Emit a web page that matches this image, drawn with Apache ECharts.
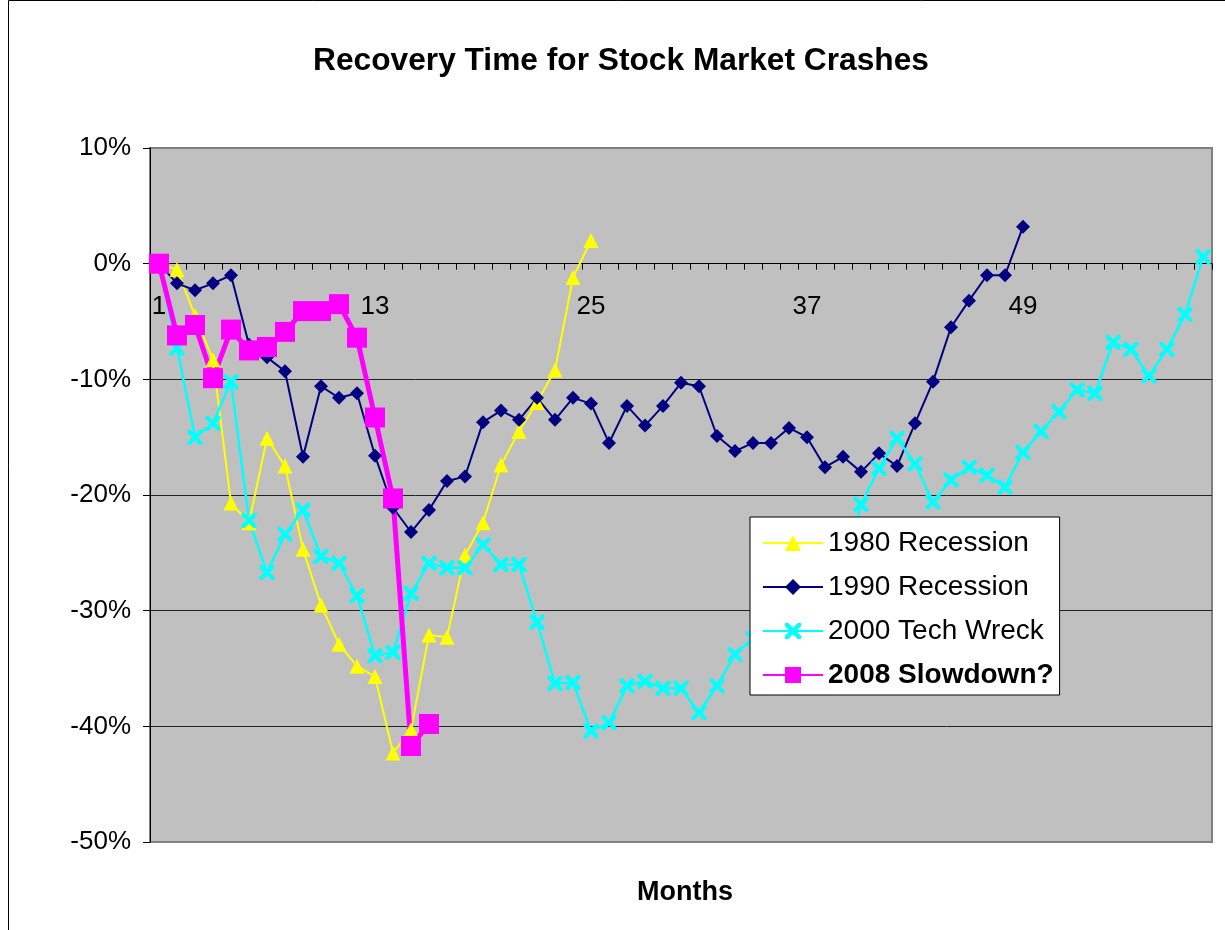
<!DOCTYPE html>
<html>
<head>
<meta charset="utf-8">
<title>Recovery Time for Stock Market Crashes</title>
<script src="https://cdn.jsdelivr.net/npm/echarts@6/dist/echarts.min.js"></script>
<style>
  html, body { margin: 0; padding: 0; background: #fff; }
  #chart { width: 1225px; height: 930px; }
</style>
</head>
<body>
<div id="chart"></div>
<script>
// months since the market peak
const months = []
for (let m = 1; m <= 59; m++) months.push(String(m))

const seriesNames = ['1980 Recession', '1990 Recession', '2000 Tech Wreck', '2008 Slowdown?']

// % change from peak
const rec1980 = [0, -0.5, -4.5, -8.3, -20.7, -22.4, -15.1, -17.5, -24.7, -29.5,
  -32.9, -34.8, -35.7, -42.3, -40.3, -32.1, -32.3, -25.2, -22.4, -17.4,
  -14.5, -12.0, -9.2, -1.2, 2.0]

const rec1990 = [0, -1.7, -2.3, -1.7, -1.0, -7.0, -8.1, -9.3, -16.7, -10.6,
  -11.6, -11.2, -16.6, -21.1, -23.2, -21.3, -18.8, -18.4, -13.7, -12.7,
  -13.5, -11.6, -13.5, -11.6, -12.1, -15.5, -12.3, -14.0, -12.3, -10.3,
  -10.6, -14.9, -16.2, -15.5, -15.5, -14.2, -15.0, -17.6, -16.7, -18.0,
  -16.4, -17.5, -13.8, -10.2, -5.5, -3.2, -1.0, -1.0, 3.2]

const rec2000 = [0, -7.3, -15.0, -13.8, -10.2, -22.2, -26.7, -23.4, -21.3, -25.3,
  -25.9, -28.7, -33.9, -33.6, -28.5, -25.9, -26.3, -26.3, -24.3, -26.0,
  -26.0, -31.0, -36.3, -36.2, -40.4, -39.7, -36.5, -36.1, -36.7, -36.7,
  -38.8, -36.5, -33.8, -32.4, -30.8, -31.5, -29.2, -28.6, -27.0, -20.8,
  -17.7, -15.1, -17.3, -20.6, -18.7, -17.6, -18.3, -19.3, -16.3, -14.5,
  -12.8, -10.9, -11.2, -6.8, -7.4, -9.7, -7.4, -4.4, 0.6]

const rec2008 = [0, -6.2, -5.3, -9.9, -5.7, -7.5, -7.2, -5.9, -4.1, -4.1,
  -3.5, -6.4, -13.3, -20.3, -41.7, -39.8]

const yTicks = { min: -50, max: 10, step: 10 }

const FONT = '"Liberation Sans", Arial, sans-serif'
const crossPath = 'path://M0,0 L4,0 L10,6 L16,0 L20,0 L20,4 L14,10 L20,16 L20,20 L16,20 L10,14 L4,20 L0,20 L0,16 L6,10 L0,4 Z'

const gridTop = 148
const gridBottom = 88
const plotH = 930 - gridTop - gridBottom
// move the month axis up from the bottom edge to the 0% line
const zeroOffset = -plotH * (0 - yTicks.min) / (yTicks.max - yTicks.min)

const chart = echarts.init(document.getElementById('chart'))

chart.setOption({
  animation: false,
  backgroundColor: '#fff',
  textStyle: { fontFamily: FONT },
  title: [
    {
      text: 'Recovery Time for Stock Market Crashes',
      left: 616,
      top: 40,
      textAlign: 'center',
      textStyle: { fontFamily: FONT, fontSize: 31.7, fontWeight: 'bold', color: '#000' },
    },
    {
      text: 'Months',
      left: 680,
      top: 874,
      textAlign: 'center',
      textStyle: { fontFamily: FONT, fontSize: 27, fontWeight: 'bold', color: '#000' },
    },
  ],
  graphic: [
    {
      type: 'polyline',
      shape: { points: [[8.5, 960], [8.5, 0.5], [1300, 0.5]] },
      style: { stroke: '#000', lineWidth: 1, fill: null },
      silent: true,
    },
  ],
  legend: {
    orient: 'vertical',
    left: 750,
    top: 517,
    padding: [12, 6, 6, 12],
    itemGap: 16,
    itemWidth: 60,
    itemHeight: 20,
    backgroundColor: '#fff',
    borderColor: '#000',
    borderWidth: 1,
    textStyle: { fontFamily: FONT, fontSize: 28, color: '#000' },
    data: [
      { name: seriesNames[0] },
      { name: seriesNames[1] },
      { name: seriesNames[2] },
      { name: seriesNames[3], textStyle: { fontWeight: 'bold' } },
    ],
  },
  grid: {
    left: 150,
    top: gridTop,
    right: 13,
    bottom: gridBottom,
    show: true,
    backgroundColor: '#c0c0c0',
    borderColor: '#808080',
    borderWidth: 2,
  },
  xAxis: {
    type: 'category',
    data: months,
    boundaryGap: true,
    position: 'bottom',
    offset: zeroOffset,
    axisLine: { show: true, onZero: false, lineStyle: { color: '#000', width: 1 } },
    axisTick: { show: true, interval: 0, length: 6, lineStyle: { color: '#000' } },
    axisLabel: { interval: 11, fontSize: 26, color: '#000', margin: 30, fontFamily: FONT },
    splitLine: { show: false },
  },
  yAxis: {
    type: 'value',
    min: yTicks.min,
    max: yTicks.max,
    interval: yTicks.step,
    axisLine: { show: true, lineStyle: { color: '#000', width: 1 } },
    axisTick: { show: true, length: 7, lineStyle: { color: '#000' } },
    axisLabel: { formatter: '{value}%', fontSize: 26, color: '#000', margin: 19, fontFamily: FONT },
    splitLine: {
      show: true,
      lineStyle: { color: ['#808080', '#222', '#222', '#222', '#222', '#222', '#808080'], width: 1 },
    },
  },
  series: [
    {
      name: seriesNames[0],
      type: 'line',
      data: rec1980,
      symbol: 'triangle',
      symbolSize: 15,
      showAllSymbol: true,
      lineStyle: { color: '#ffff00', width: 2 },
      itemStyle: { color: '#ffff00' },
    },
    {
      name: seriesNames[1],
      type: 'line',
      data: rec1990,
      symbol: 'diamond',
      symbolSize: 14,
      showAllSymbol: true,
      lineStyle: { color: '#000080', width: 2 },
      itemStyle: { color: '#000080' },
    },
    {
      name: seriesNames[2],
      type: 'line',
      data: rec2000,
      symbol: crossPath,
      symbolSize: 15,
      showAllSymbol: true,
      lineStyle: { color: '#00ffff', width: 2.5 },
      itemStyle: { color: '#00ffff' },
    },
    {
      name: seriesNames[3],
      type: 'line',
      data: rec2008,
      symbol: 'rect',
      symbolSize: 20,
      showAllSymbol: true,
      lineStyle: { color: '#ff00ff', width: 5 },
      itemStyle: { color: '#ff00ff' },
    },
  ],
})
</script>
</body>
</html>
